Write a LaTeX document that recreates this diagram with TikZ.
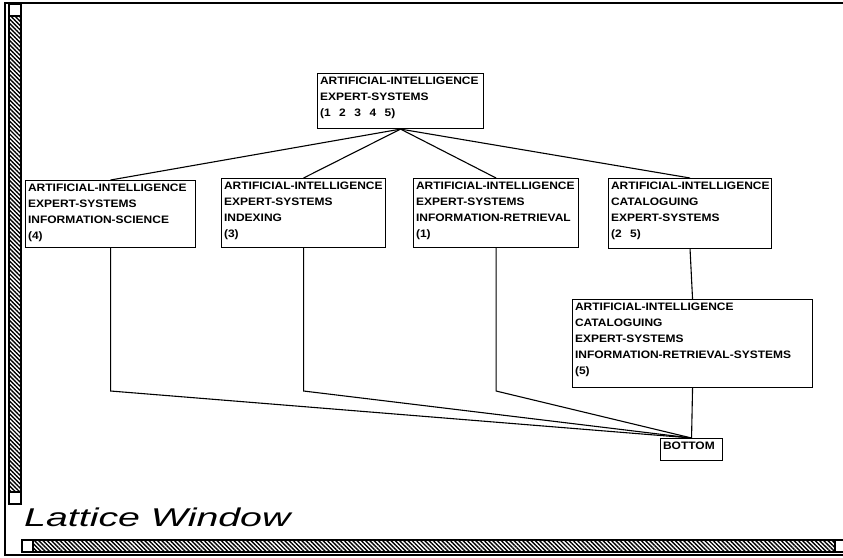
\documentclass[tikz,border=0pt]{standalone}
\usepackage{fontspec}
\usepackage{graphicx}
\usetikzlibrary{patterns.meta}
\newfontfamily\latfont[FakeStretch=1.11]{Liberation Sans}
\newfontfamily\titlefont[FakeStretch=1.53]{Liberation Sans}
\newcommand\boxlines[3]{\parbox[t][#2][t]{#1}{\raggedright\leftskip=2.5pt\relax\latfont\bfseries\fontsize{10.8}{16.2}\selectfont\spaceskip=8.5pt\relax\rule{0pt}{10.5pt}#3}}
\begin{document}
\begin{tikzpicture}[x=1pt,y=-1pt,
  lbox/.style={draw, line width=1.1pt, inner sep=0pt, anchor=north west},
  edge/.style={line width=1.1pt},
  framel/.style={line width=1.3pt},
  hatch/.style={pattern={Lines[angle=-45,distance=3pt,line width=1.4pt]}}]
\useasboundingbox (0,0) rectangle (843,557);

% window frame and scroll bars
\draw[framel] (843,3) -- (5,3) -- (5,555) -- (843,555);
\path[hatch] (9,16) rectangle (21,492);
\draw[framel] (9,3) rectangle (21,504);
\draw[framel] (9,16) -- (21,16);
\draw[framel] (9,492) -- (21,492);
\fill (9,3) rectangle (21,5);
\path[hatch] (33,540) rectangle (835,552);
\draw[framel] (843,540) -- (22,540) -- (22,552) -- (843,552);
\draw[framel] (33,540) -- (33,552);
\draw[framel] (835,540) -- (835,552);

% lattice nodes
\node[lbox] (T) at (317,73) {\boxlines{166pt}{55pt}{ARTIFICIAL-INTELLIGENCE\\EXPERT-SYSTEMS\\(1 2 3 4 5)}};
\node[lbox] (A) at (25,180) {\boxlines{170pt}{67pt}{ARTIFICIAL-INTELLIGENCE\\EXPERT-SYSTEMS\\INFORMATION-SCIENCE\\(4)}};
\node[lbox] (B) at (221,178) {\boxlines{164pt}{69pt}{ARTIFICIAL-INTELLIGENCE\\EXPERT-SYSTEMS\\INDEXING\\(3)}};
\node[lbox] (C) at (413,178) {\boxlines{165pt}{69pt}{ARTIFICIAL-INTELLIGENCE\\EXPERT-SYSTEMS\\INFORMATION-RETRIEVAL\\(1)}};
\node[lbox] (D) at (608,178) {\boxlines{163pt}{70pt}{ARTIFICIAL-INTELLIGENCE\\CATALOGUING\\EXPERT-SYSTEMS\\(2 5)}};
\node[lbox] (E) at (572,299) {\boxlines{240pt}{88pt}{ARTIFICIAL-INTELLIGENCE\\CATALOGUING\\EXPERT-SYSTEMS\\INFORMATION-RETRIEVAL-SYSTEMS\\(5)}};
\node[lbox] (BOT) at (660,438) {\boxlines{62pt}{22pt}{BOTTOM}};

\coordinate (bend) at (0,391);

% connectors
\draw[edge] (T.south) -- (A.north);
\draw[edge] (T.south) -- (B.north);
\draw[edge] (T.south) -- (C.north);
\draw[edge] (T.south) -- (D.north);
\draw[edge] (D.south) -- (E.north);
\draw[edge] (E.south) -- (BOT.north);
\draw[edge] (A.south) -- (A.south |- bend) -- (BOT.north);
\draw[edge] (B.south) -- (B.south |- bend) -- (BOT.north);
\draw[edge] (C.south) -- (C.south |- bend) -- (BOT.north);

% title
\node[anchor=base west, inner sep=0pt] (title) at (24,526) {\titlefont\itshape\fontsize{25.7}{30}\selectfont Lattice Window};
\end{tikzpicture}
\end{document}
